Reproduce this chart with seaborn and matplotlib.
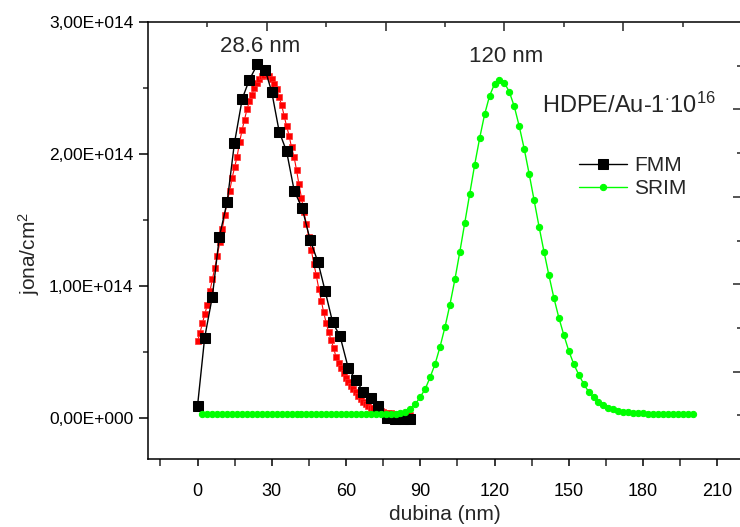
import numpy as np
import pandas as pd
import matplotlib
matplotlib.use('Agg')
import matplotlib.pyplot as plt
from matplotlib.ticker import FuncFormatter, MultipleLocator, FixedLocator
import seaborn as sns

# FMM measured profile (nm, ions/cm2 in 1e14)
fmm_x = [0, 2.9, 6, 8.8, 12, 14.9, 18.1, 20.9, 24.2, 27.3, 30, 33, 36, 39.1, 42.3,
         45.5, 48.7, 51.6, 54.6, 57.6, 60.9, 63.9, 67, 70, 72.9, 76.7, 79.8, 83, 85.9]
fmm_y = [0.09, 0.61, 0.92, 1.37, 1.64, 2.08, 2.42, 2.56, 2.68, 2.64, 2.47, 2.17, 2.02, 1.72, 1.59,
         1.35, 1.18, 0.96, 0.725, 0.62, 0.38, 0.29, 0.20, 0.155, 0.09, 0.0, -0.01, -0.01, -0.01]

# fit curve (red), 1 nm step from 0 nm
fit_y = [0.58, 0.645, 0.72, 0.79, 0.86, 0.96, 1.05, 1.14, 1.23, 1.33,
         1.43, 1.54, 1.64, 1.72, 1.82, 1.90, 1.98, 2.09, 2.18, 2.26,
         2.34, 2.40, 2.45, 2.50, 2.54, 2.57, 2.59, 2.60, 2.61, 2.59,
         2.57, 2.53, 2.49, 2.43, 2.37, 2.29, 2.21, 2.14, 2.05, 1.98,
         1.88, 1.77, 1.67, 1.56, 1.47, 1.37, 1.27, 1.17, 1.08, 0.98,
         0.89, 0.80, 0.72, 0.65, 0.59, 0.53, 0.46, 0.42, 0.38, 0.34,
         0.30, 0.27, 0.245, 0.22, 0.195, 0.17, 0.145, 0.125, 0.105, 0.09,
         0.08, 0.073, 0.066, 0.06, 0.053, 0.047, 0.042, 0.038, 0.035, 0.033,
         0.031, 0.029, 0.027, 0.026, 0.025, 0.024, 0.023]
fit_x = np.arange(len(fit_y))

# SRIM profile (green), 2 nm step from 2 nm
srim_y = [0.03] * 40 + [
    0.035, 0.045, 0.07, 0.105, 0.16, 0.22, 0.31, 0.41, 0.54, 0.69,
    0.86, 1.05, 1.26, 1.48, 1.70, 1.92, 2.12, 2.30, 2.44, 2.53,
    2.56, 2.54, 2.47, 2.36, 2.21, 2.04, 1.85, 1.65, 1.45, 1.26,
    1.08, 0.91, 0.76, 0.63, 0.51, 0.41, 0.33, 0.26, 0.20, 0.16,
    0.125, 0.10, 0.08, 0.065, 0.055, 0.048, 0.043, 0.04, 0.037, 0.035] + [
    0.034, 0.033, 0.033, 0.032, 0.032, 0.031, 0.031, 0.03, 0.03, 0.03]
srim_x = np.arange(2, 2 + 2 * len(srim_y), 2)

fmm = pd.DataFrame({'x': fmm_x, 'y': np.array(fmm_y) * 1e14})
fit = pd.DataFrame({'x': fit_x, 'y': np.array(fit_y) * 1e14})
srim = pd.DataFrame({'x': srim_x, 'y': np.array(srim_y) * 1e14})

sns.set_style('ticks')
plt.rcParams['font.family'] = ['Liberation Sans', 'DejaVu Sans']
plt.rcParams['mathtext.fontset'] = 'custom'
plt.rcParams['mathtext.rm'] = 'Liberation Sans'
plt.rcParams['mathtext.it'] = 'Liberation Sans'

fig = plt.figure(figsize=(7.4, 5.27), dpi=100)
pos = [148 / 740, 1 - 459 / 527, 594 / 740, 437 / 527]
ax = fig.add_axes(pos)

sns.lineplot(data=fit, x='x', y='y', ax=ax, color='red', linewidth=0.8,
             marker='s', markersize=4.6, markeredgecolor='#ff3030', markeredgewidth=0.5,
             estimator=None, legend=False)
sns.lineplot(data=fmm, x='x', y='y', ax=ax, color='black', linewidth=1.0,
             marker='s', markersize=7.3, markeredgecolor='black',
             estimator=None, label='FMM')
sns.lineplot(data=srim, x='x', y='y', ax=ax, color='#00ff00', linewidth=1.0,
             marker='o', markersize=4.5, markeredgecolor='#00ff00',
             estimator=None, label='SRIM')

ax.set_xlim(-20, 220)
ax.set_ylim(-0.31e14, 3.0e14)


def sci_comma(v, pos):
    if v == 0:
        return '0,00E+000'
    e = int(np.floor(np.log10(abs(v))))
    m = v / 10 ** e
    return f"{m:.2f}".replace('.', ',') + f"E{'+' if e >= 0 else '-'}{abs(e):03d}"


ax.xaxis.set_major_locator(FixedLocator(list(range(0, 211, 30))))
ax.xaxis.set_minor_locator(FixedLocator(list(range(-15, 211, 30))))
ax.yaxis.set_major_locator(MultipleLocator(1e14))
ax.yaxis.set_minor_locator(FixedLocator([0.5e14, 1.5e14, 2.5e14]))
ax.yaxis.set_major_formatter(FuncFormatter(sci_comma))

for s in ax.spines.values():
    s.set_linewidth(1.1)
    s.set_color('black')
ax.tick_params(axis='y', which='major', direction='out', length=6.5, width=1.1,
               labelsize=12.5, pad=4, colors='black')
ax.tick_params(axis='y', which='minor', direction='out', length=3.6, width=1.1)
ax.tick_params(axis='x', which='major', direction='out', length=5, width=1.1,
               labelsize=13, pad=12, colors='black')
ax.tick_params(axis='x', which='minor', direction='out', length=5, width=1.1)
ax.tick_params(top=False, right=False)

ax.set_xlabel('dubina (nm)', fontsize=15)
ax.set_ylabel('jona/cm$^2$', fontsize=15)
ax.xaxis.set_label_coords(0.5, -0.105)
ax.yaxis.set_label_coords(-0.178, 0.471)

# overlay layer ticks on top/right (no labels)
ax2 = fig.add_axes(pos, frameon=False)
ax2.set_xlim(0, 10)
ax2.set_ylim(0, 10)
ax2.xaxis.tick_top()
ax2.yaxis.tick_right()
ax2.xaxis.set_major_locator(FixedLocator([2, 4, 6, 8]))
ax2.xaxis.set_minor_locator(FixedLocator([1, 3, 5, 7, 9]))
ax2.yaxis.set_major_locator(FixedLocator([2, 4, 6, 8]))
ax2.yaxis.set_minor_locator(FixedLocator([1, 3, 5, 7, 9]))
ax2.tick_params(which='major', direction='in', length=6.5, width=1.1,
                labeltop=False, labelright=False, labelleft=False, labelbottom=False)
ax2.tick_params(which='minor', direction='in', length=3.4, width=1.1)
ax2.patch.set_visible(False)

leg = ax.legend(loc='upper left', bbox_to_anchor=(579 / 740, 1 - 156 / 527),
                bbox_transform=fig.transFigure, frameon=False, fontsize=15,
                handlelength=2.3, handletextpad=0.35, labelspacing=0.2,
                borderaxespad=0, borderpad=0)

fig.text(260 / 740, 1 - 47 / 527, '28.6 nm', fontsize=16, ha='center', va='center')
fig.text(506 / 740, 1 - 57 / 527, '120 nm', fontsize=16, ha='center', va='center')
fig.text(542 / 740, 1 - 113 / 527, r'HDPE/Au-1$^{\cdot}$10$^{16}$', fontsize=17,
         ha='left', va='baseline')

fig.savefig('out.png', dpi=100)
